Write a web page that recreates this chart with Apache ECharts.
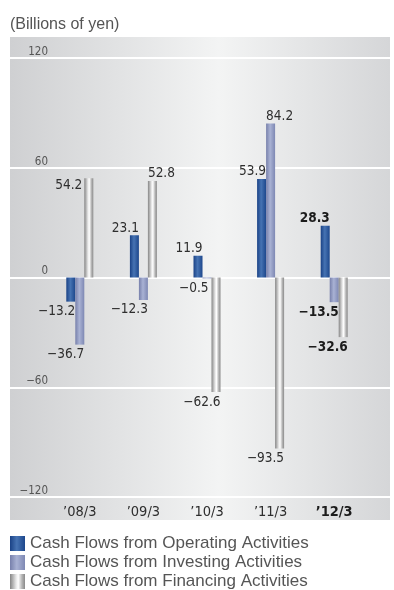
<!DOCTYPE html>
<html>
<head>
<meta charset="utf-8">
<script src="https://cdn.jsdelivr.net/npm/echarts@6/dist/echarts.min.js"></script>
<style>
  html, body { margin: 0; padding: 0; background: #fff; }
  #chart { width: 394px; height: 590px; }
</style>
</head>
<body>
<div id="chart"></div>
<script>
// Fiscal years (March year-end) and cash flows, billions of yen
const categories = ['\u201908/3', '\u201909/3', '\u201910/3', '\u201911/3', '\u201912/3'];
const operating  = [-13.2, 23.1, 11.9, 53.9, 28.3];
const investing  = [-36.7, -12.3, -0.5, 84.2, -13.5];
const financing  = [54.2, 52.8, -62.6, -93.5, -32.6];
const seriesNames = [
  'Cash Flows from Operating Activities',
  'Cash Flows from Investing Activities',
  'Cash Flows from Financing Activities'
];
const yMin = -120, yMax = 120, yStep = 60;

const NARROW = '"DejaVu Sans Condensed", "Liberation Sans Narrow", sans-serif';
const SANS = '"Liberation Sans", Arial, sans-serif';

// Signed numbers use a true minus sign
const fmt = v => String(v).replace('-', '\u2212');

const hGrad = stops => ({
  type: 'linear', x: 0, y: 0, x2: 1, y2: 0,
  colorStops: stops.map(([offset, color]) => ({ offset, color }))
});

const colors = {
  operating: hGrad([[0, '#1a4286'], [0.45, '#4673b3'], [1, '#1d478c']]),
  investing: hGrad([[0, '#7780ab'], [0.45, '#a9b2d4'], [1, '#7e88b3']]),
  financing: hGrad([[0, '#858585'], [0.4, '#e6e6e6'], [0.55, '#ffffff'], [0.8, '#b4b4b4'], [1, '#8a8a8a']])
};

// Where each value label sits relative to its bar
const placements = {
  above:     { position: ['100%', 0],      align: 'right', verticalAlign: 'bottom', offset: [0, 0] },
  below:     { position: ['100%', '100%'], align: 'right', verticalAlign: 'top',    offset: [0, 3] },
  sideLeft:  { position: [0, 0],           align: 'right', verticalAlign: 'top',    offset: [-2, 0] },
  aboveLeft: { position: [0, 0],           align: 'left',  verticalAlign: 'bottom', offset: [0, 0] },
  tucked:    { position: ['100%', '100%'], align: 'right', verticalAlign: 'top',    offset: [-3, 3] }
};
const labelSpots = {
  operating: {},
  investing: { 2: 'tucked', 3: 'aboveLeft' },
  financing: { 0: 'sideLeft', 1: 'aboveLeft' }
};

const lastIdx = categories.length - 1;

function buildData(values, spots) {
  return values.map((v, i) => {
    const spot = spots[i] || (v >= 0 ? 'above' : 'below');
    const latest = i === lastIdx;
    return {
      value: v,
      label: Object.assign({}, placements[spot], {
        fontWeight: latest ? 'bold' : 'normal',
        color: latest ? '#1c1c1c' : '#2e2e2e'
      })
    };
  });
}

function barSeries(name, values, key) {
  return {
    name: name,
    type: 'bar',
    xAxisIndex: 0,
    yAxisIndex: 0,
    barWidth: 9,
    barGap: '0%',
    itemStyle: { color: colors[key] },
    label: {
      show: true,
      fontFamily: NARROW,
      fontSize: 13.5,
      formatter: p => fmt(p.value)
    },
    data: buildData(values, labelSpots[key])
  };
}

const chart = echarts.init(document.getElementById('chart'), null, { renderer: 'canvas' });

chart.setOption({
  animation: false,
  backgroundColor: '#ffffff',
  title: {
    text: '(Billions of yen)',
    left: 10,
    top: 17,
    padding: 0,
    textStyle: { fontFamily: SANS, fontSize: 16, fontWeight: 'normal', color: '#555555' }
  },
  graphic: [{
    type: 'rect',
    left: 10,
    top: 37,
    z: -100,
    silent: true,
    shape: { width: 380, height: 483 },
    style: { fill: hGrad([[0, '#cfd0d2'], [0.55, '#f3f4f4'], [1, '#d5d6d8']]) }
  }],
  grid: [
    { left: 48, right: 28, top: 58, bottom: 93 },
    { left: 10, right: 4, top: 58, bottom: 93 }
  ],
  xAxis: [
    {
      gridIndex: 0,
      type: 'category',
      data: categories.map((c, i) => i === lastIdx
        ? { value: c, textStyle: { fontWeight: 'bold', color: '#1c1c1c' } }
        : c),
      axisLine: { show: false },
      axisTick: { show: false },
      axisLabel: { fontFamily: NARROW, fontSize: 14.5, color: '#2e2e2e', margin: 8 }
    },
    { gridIndex: 1, type: 'value', show: false }
  ],
  yAxis: [
    {
      gridIndex: 0,
      type: 'value',
      min: yMin, max: yMax, interval: yStep,
      axisLine: { show: false },
      axisTick: { show: false },
      splitLine: { show: false },
      axisLabel: {
        margin: 0,
        align: 'right',
        verticalAlign: 'bottom',
        fontFamily: NARROW,
        fontSize: 11.5,
        color: '#555555',
        formatter: v => fmt(v)
      }
    },
    {
      gridIndex: 1,
      type: 'value',
      min: yMin, max: yMax, interval: yStep,
      axisLine: { show: false },
      axisTick: { show: false },
      axisLabel: { show: false },
      splitLine: { show: true, lineStyle: { color: '#ffffff', width: 2 } }
    }
  ],
  legend: {
    data: seriesNames,
    orient: 'vertical',
    left: 10,
    top: 535,
    padding: 0,
    itemWidth: 15,
    itemHeight: 15,
    itemGap: 2,
    selectedMode: false,
    icon: 'rect',
    textStyle: { fontFamily: SANS, fontSize: 17, color: '#555555', lineHeight: 17 }
  },
  series: [
    barSeries(seriesNames[0], operating, 'operating'),
    barSeries(seriesNames[1], investing, 'investing'),
    barSeries(seriesNames[2], financing, 'financing')
  ]
});
</script>
</body>
</html>
